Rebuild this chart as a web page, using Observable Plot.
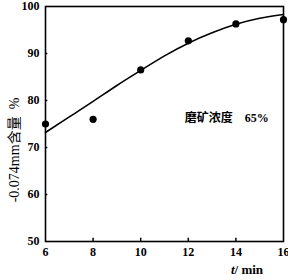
<!DOCTYPE html>
<html><head><meta charset="utf-8">
<script src="https://cdn.jsdelivr.net/npm/d3@7"></script>
<script src="https://cdn.jsdelivr.net/npm/@observablehq/plot@0.6"></script>
<style>body{margin:0;background:#fff}</style>
</head><body><div id="chart"></div>
<script>
const pointT = [6, 8, 10, 12, 14, 16];
const pointV = [75, 76, 86.5, 92.7, 96.3, 97.2];
const curveT = [6, 7, 8, 9, 10, 11, 12, 13, 14, 15, 16];
const curveV = [73.2, 76.5, 79.8, 83.2, 86.4, 89.5, 92.2, 94.4, 96.2, 97.5, 98.3];
const xTicks = [6, 8, 10, 12, 14, 16];
const yTicks = [50, 60, 70, 80, 90, 100];
const note = "磨矿浓度\u00a0\u00a0\u00a0\u00a065%";

const pts = pointT.map((t, i) => ({t, v: pointV[i]}));
const crv = curveT.map((t, i) => ({t, v: curveV[i]}));
const font = "'Liberation Serif', 'Noto Sans CJK SC', serif";

const chart = Plot.plot({
  width: 288, height: 280,
  marginLeft: 45, marginRight: 5, marginTop: 6, marginBottom: 39,
  style: {fontFamily: font, fontSize: "12px", fontWeight: "bold", color: "#000", background: "#fff"},
  x: {domain: [6, 16]},
  y: {domain: [50, 100]},
  marks: [
    Plot.frame({stroke: "#000", strokeWidth: 1.6}),
    Plot.axisX({ticks: xTicks, tickSize: 0, tickPadding: 6, fontSize: 12, label: null}),
    Plot.axisY({ticks: yTicks, tickSize: 0, tickPadding: 6, fontSize: 12, label: null}),
    Plot.ruleX(xTicks.slice(1, -1), {x: d => d, y1: 50, y2: 50.7, stroke: "#000", strokeWidth: 1.5}),
    Plot.ruleY(yTicks.slice(1, -1), {y: d => d, x1: 6, x2: 6.1, stroke: "#000", strokeWidth: 1.5}),
    Plot.line(crv, {x: "t", y: "v", curve: "natural", stroke: "#000", strokeWidth: 1.6}),
    Plot.dot(pts, {x: "t", y: "v", r: 3.6, fill: "#000"}),
    Plot.text([note], {x: 11.85, y: 76.2, text: d => d, fontSize: 12, textAnchor: "start", fontFamily: font})
  ]
});

const svg = d3.select(chart);
svg.append("text")
  .attr("transform", "translate(19,150) rotate(-90)")
  .attr("text-anchor", "middle")
  .attr("font-size", 14)
  .attr("font-family", font)
  .attr("font-weight", "normal")
  .attr("fill", "#000")
  .text("-0.074mm含量\u00a0\u00a0%");
const xl = svg.append("text")
  .attr("x", 247).attr("y", 274)
  .attr("text-anchor", "middle")
  .attr("font-size", 13)
  .attr("font-family", font)
  .attr("font-weight", "bold")
  .attr("fill", "#000");
xl.append("tspan").attr("font-style", "italic").text("t");
xl.append("tspan").text("/ min");

document.getElementById("chart").appendChild(chart);
</script>
</body></html>
